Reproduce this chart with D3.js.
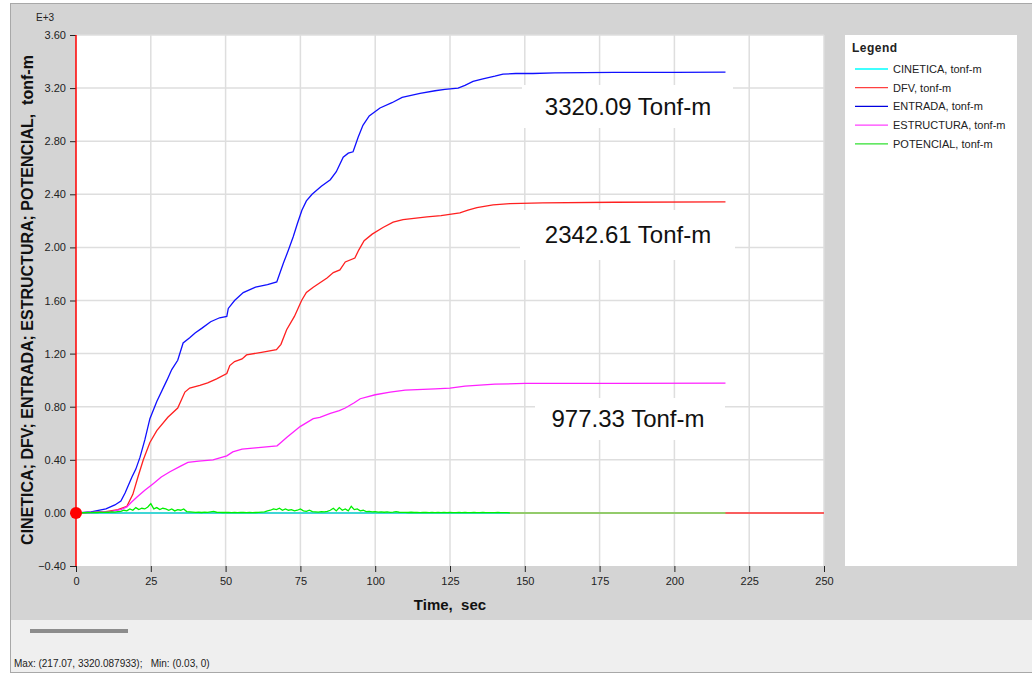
<!DOCTYPE html>
<html lang="es">
<head>
<meta charset="UTF-8">
<title>Energias</title>
<script src="https://d3js.org/d3.v7.min.js"></script>
<style>
  body { margin: 0; background: #fff; }
  svg text { font-family: "Liberation Sans", Arial, sans-serif; white-space: pre; }
</style>
</head>
<body>
<svg id="chart" width="1032" height="675"></svg>
<script>
// tiempo (s) y valores (E+3 tonf-m)
const entT = [0, 5, 10, 13, 15, 16.4, 18.7, 20, 21.4, 23, 24.7, 27, 30.4, 32, 34, 35.8, 38, 39.8, 42, 45, 48, 50.4, 50.9, 53, 55.9, 60, 64, 67.1, 69.3, 71, 72.6, 74, 75.5, 77, 78.9, 82, 85, 87, 89.3, 91, 92.6, 94.3, 95.9, 98, 101.6, 105.6, 109, 115, 120, 123.3, 127.7, 130, 132.7, 136, 140, 142.7, 147, 152.7, 160, 180, 200, 217.07];
const entV = [0, 0.008, 0.03, 0.06, 0.09, 0.15, 0.27, 0.33, 0.42, 0.55, 0.71, 0.84, 1.0, 1.08, 1.15, 1.28, 1.32, 1.356, 1.39, 1.44, 1.47, 1.48, 1.54, 1.6, 1.66, 1.7, 1.72, 1.74, 1.88, 1.98, 2.08, 2.18, 2.28, 2.35, 2.40, 2.46, 2.51, 2.57, 2.68, 2.71, 2.72, 2.83, 2.92, 2.99, 3.05, 3.09, 3.13, 3.16, 3.18, 3.19, 3.20, 3.22, 3.25, 3.27, 3.29, 3.305, 3.31, 3.31, 3.315, 3.318, 3.319, 3.32009];

const dfvT = [0, 5, 10, 14, 17, 19, 20.7, 22.5, 24.7, 27, 30.7, 34, 36.4, 38, 41.4, 44, 47, 50.4, 51.4, 53, 55.5, 57, 62, 67, 68.5, 70.4, 73, 75.4, 77, 79.3, 83.9, 86, 88.2, 90, 93.2, 94.5, 96.3, 99, 102.6, 106, 109.3, 117.3, 122, 128.3, 131, 134, 139.4, 145, 156, 180, 217.07];
const dfvV = [0, 0.004, 0.01, 0.025, 0.05, 0.14, 0.27, 0.4, 0.53, 0.62, 0.72, 0.79, 0.91, 0.94, 0.96, 0.98, 1.01, 1.05, 1.11, 1.14, 1.16, 1.19, 1.21, 1.23, 1.27, 1.38, 1.48, 1.60, 1.66, 1.70, 1.77, 1.81, 1.83, 1.89, 1.92, 1.98, 2.05, 2.1, 2.15, 2.19, 2.21, 2.23, 2.24, 2.26, 2.28, 2.30, 2.32, 2.33, 2.335, 2.34, 2.34261];

const estT = [0, 5, 11.4, 15, 17, 18.5, 20.4, 23, 25.8, 28.5, 31.4, 34.8, 37.4, 41, 45.8, 50.4, 52.4, 55.5, 60, 67.2, 68.5, 70.5, 74.9, 79.3, 81.5, 85, 88, 90, 93, 95, 100, 105, 110, 120, 125, 130, 140, 150, 180, 217.07];
const estV = [0, 0.003, 0.01, 0.025, 0.045, 0.08, 0.12, 0.17, 0.22, 0.27, 0.31, 0.35, 0.38, 0.39, 0.40, 0.43, 0.46, 0.48, 0.49, 0.505, 0.53, 0.57, 0.65, 0.71, 0.72, 0.75, 0.77, 0.79, 0.83, 0.86, 0.89, 0.91, 0.925, 0.935, 0.94, 0.955, 0.97, 0.975, 0.976, 0.97733];

// potencial: un valor por segundo de 0 a 145 s, luego 0 hasta el final
const potV = [
  0, 0, 0.002, 0.001, 0.003, 0.002, 0.004, 0.003, 0.005, 0.004,
  0.006, 0.005, 0.008, 0.006, 0.01, 0.012, 0.02, 0.015, 0.03, 0.02,
  0.04, 0.025, 0.035, 0.03, 0.045, 0.07, 0.03, 0.04, 0.025, 0.035,
  0.03, 0.02, 0.03, 0.015, 0.025, 0.02, 0.03, 0.01, 0.008, 0.006,
  0.004, 0.005, 0.003, 0.006, 0.004, 0.008, 0.012, 0.005, 0.004, 0.003,
  0.003, 0.004, 0.002, 0.003, 0.002, 0.004, 0.003, 0.002, 0.003, 0.002,
  0.003, 0.004, 0.006, 0.008, 0.015, 0.02, 0.03, 0.025, 0.035, 0.02,
  0.03, 0.02, 0.025, 0.015, 0.02, 0.03, 0.015, 0.012, 0.02, 0.01,
  0.008, 0.006, 0.01, 0.008, 0.012, 0.02, 0.035, 0.015, 0.04, 0.02,
  0.03, 0.015, 0.05, 0.025, 0.03, 0.015, 0.02, 0.01, 0.012, 0.008,
  0.01, 0.006, 0.008, 0.005, 0.007, 0.004, 0.006, 0.01, 0.005, 0.004,
  0.004, 0.003, 0.005, 0.003, 0.004, 0.002, 0.003, 0.004, 0.002, 0.003,
  0.002, 0.003, 0.002, 0.003, 0.002, 0.003, 0.002, 0.002, 0.003, 0.002,
  0.003, 0.002, 0.002, 0.003, 0.002, 0.002, 0.003, 0.002, 0.002, 0.002,
  0.002, 0.003, 0.002, 0.002, 0.002, 0
];
const potTailT = [145, 217.07];
const cinT = [0, 145];
const cinV = [0, 0];
const baseT = [0, 250];

const xTicks = [0, 25, 50, 75, 100, 125, 150, 175, 200, 225, 250];
const yTicks = [-0.4, 0, 0.4, 0.8, 1.2, 1.6, 2.0, 2.4, 2.8, 3.2, 3.6];

const legendNames = ["CINETICA, tonf-m", "DFV, tonf-m", "ENTRADA, tonf-m", "ESTRUCTURA, tonf-m", "POTENCIAL, tonf-m"];
const legendColors = ["#00ffff", "#ff4040", "#0000e0", "#ff40ff", "#30e030"];

const labels = ["3320.09 Tonf-m", "2342.61 Tonf-m", "977.33 Tonf-m"];

const svg = d3.select("#chart");

// marcos
svg.append("rect").attr("x", 10.5).attr("y", 3.5).attr("width", 1030).attr("height", 669)
  .attr("fill", "#efefef").attr("stroke", "#a8a8a8");
svg.append("rect").attr("x", 11).attr("y", 4).attr("width", 1021).attr("height", 616).attr("fill", "#d4d4d4");
svg.append("rect").attr("x", 30).attr("y", 629).attr("width", 98).attr("height", 4).attr("fill", "#8c8c8c");

const x = d3.scaleLinear().domain([0, 250]).range([76, 824]);
const y = d3.scaleLinear().domain([-0.4, 3.6]).range([566, 35]);

svg.append("rect").attr("x", 76).attr("y", 35).attr("width", 748).attr("height", 531).attr("fill", "#fff");

// rejilla
svg.append("g").selectAll("line").data(xTicks.slice(1)).join("line")
  .attr("x1", d => x(d)).attr("x2", d => x(d)).attr("y1", 35).attr("y2", 566)
  .attr("stroke", "#dedede").attr("stroke-width", 1.5);
svg.append("g").selectAll("line").data(yTicks.slice(1)).join("line")
  .attr("x1", 76).attr("x2", 824).attr("y1", d => y(d)).attr("y2", d => y(d))
  .attr("stroke", "#dedede").attr("stroke-width", 1.5);

// ejes
const yAxis = svg.append("g").attr("transform", "translate(76,0)")
  .call(d3.axisLeft(y).tickValues(yTicks).tickFormat(d3.format(".2f")).tickSize(6).tickPadding(4));
const xAxis = svg.append("g").attr("transform", "translate(0,566)")
  .call(d3.axisBottom(x).tickValues(xTicks).tickSize(6).tickPadding(5));
[yAxis, xAxis].forEach(a => {
  a.select(".domain").remove();
  a.selectAll(".tick line").attr("stroke", "#222");
  a.selectAll("text").attr("fill", "#222").style("font-size", "11px");
});

svg.append("text").attr("x", 36).attr("y", 21).attr("fill", "#222").style("font-size", "10px").text("E+3");

svg.append("text").attr("transform", "translate(33,300) rotate(-90)")
  .attr("text-anchor", "middle").attr("fill", "#111")
  .style("font-size", "16px").style("font-weight", "bold")
  .text("CINETICA; DFV; ENTRADA; ESTRUCTURA; POTENCIAL,  tonf-m");
svg.append("text").attr("x", 450).attr("y", 610).attr("text-anchor", "middle").attr("fill", "#111")
  .style("font-size", "15px").style("font-weight", "bold").text("Time,  sec");

svg.append("text").attr("x", 14).attr("y", 667).attr("fill", "#222").style("font-size", "10px")
  .text("Max: (217.07, 3320.087933);   Min: (0.03, 0)");

// series
const line = d3.line().x(d => x(d[0])).y(d => y(d[1]));
const zip = (ts, vs) => ts.map((t, i) => [t, vs[i]]);
const plot = svg.append("g");
function draw(pts, color, w) {
  plot.append("path").datum(pts).attr("d", line)
    .attr("fill", "none").attr("stroke", color).attr("stroke-width", w);
}
draw(baseT.map(t => [t, 0]), "#ff3030", 1.5);
draw(zip(cinT, cinV), "#00ffff", 1.5);
draw(zip(dfvT, dfvV), "#ff2020", 1.3);
draw(zip(entT, entV), "#1010ff", 1.3);
draw(zip(estT, estV), "#ff20ff", 1.3);
draw(potTailT.map(t => [t, 0]), "#70f070", 1.5);
draw(potV.map((v, i) => [i, v]), "#00f000", 1.3);

// eje izquierdo rojo y punto
svg.append("line").attr("x1", x(0)).attr("x2", x(0)).attr("y1", 35).attr("y2", 566)
  .attr("stroke", "#ff0000").attr("stroke-width", 1.5);
svg.append("circle").attr("cx", x(0)).attr("cy", y(0)).attr("r", 6).attr("fill", "#ff0000");

// etiquetas de valor final
const boxes = [[522, 85, 211, 43], [520, 210, 215, 50], [535, 398, 190, 42]];
labels.forEach((d, i) => {
  const b = boxes[i];
  svg.append("rect").attr("x", b[0]).attr("y", b[1]).attr("width", b[2]).attr("height", b[3]).attr("fill", "#fff");
  svg.append("text").attr("x", 628).attr("y", b[1] + b[3] / 2 + 8)
    .attr("text-anchor", "middle").attr("fill", "#111")
    .style("font-size", "24px").text(d);
});

// leyenda
svg.append("rect").attr("x", 845).attr("y", 35).attr("width", 172).attr("height", 531).attr("fill", "#fff");
svg.append("text").attr("x", 852).attr("y", 52).attr("fill", "#222")
  .style("font-size", "12px").style("font-weight", "bold").style("letter-spacing", "0.5px").text("Legend");
const leg = svg.append("g").selectAll("g").data(legendNames).join("g")
  .attr("transform", (d, i) => `translate(855,${69 + i * 18.7})`);
leg.append("line").attr("x1", 0).attr("x2", 33).attr("stroke", (d, i) => legendColors[i]).attr("stroke-width", 1.3);
leg.append("text").attr("x", 38).attr("y", 4).attr("fill", "#222").style("font-size", "11px").text(d => d);
</script>
</body>
</html>
